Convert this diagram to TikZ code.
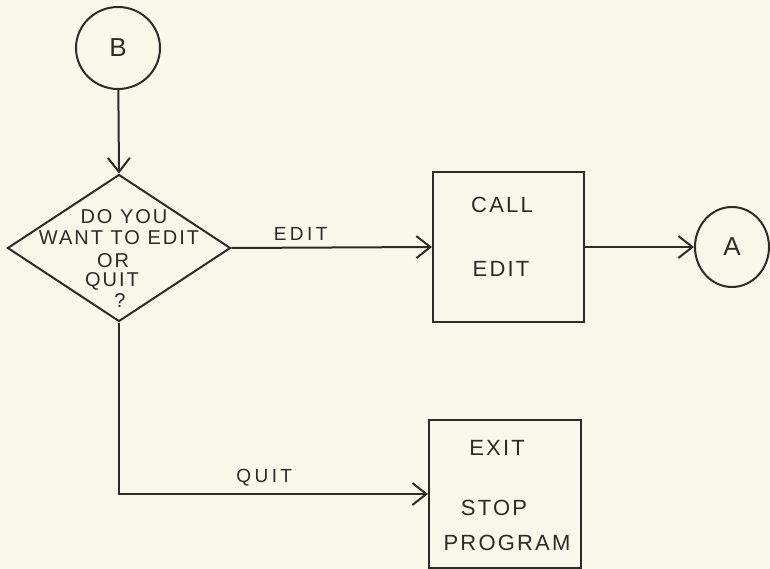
\documentclass[tikz,border=0pt]{standalone}
\usepackage{fontspec}
\setmainfont{Liberation Sans}[LetterSpace=10]
\newfontfamily\lblfont{Liberation Sans}[LetterSpace=18]
\usetikzlibrary{shapes.geometric,arrows.meta}
\definecolor{paper}{HTML}{F8F8EA}
\definecolor{ink}{HTML}{2E2A26}
\begin{document}
\begin{tikzpicture}[x=1pt,y=-1pt,
  inkline/.style={draw=ink, line width=2pt},
  conn/.style={inkline, -{Straight Barb[length=14pt,width=22pt,line width=2pt]}},
  term/.style={ellipse, inkline, inner sep=0pt, text=ink, font=\fontsize{26}{28}\selectfont},
  decision/.style={diamond, inkline, inner sep=0pt, minimum width=223pt, minimum height=147pt},
  proc/.style={rectangle, inkline, inner sep=0pt},
  dtext/.style={text=ink, inner sep=0pt, font=\fontsize{20}{22}\selectfont},
  btext/.style={text=ink, inner sep=0pt, font=\fontsize{22}{24}\selectfont},
  ltext/.style={text=ink, inner sep=0pt, font=\lblfont\fontsize{19}{21}\selectfont}]
\fill[paper] (0,0) rectangle (770,569);
\useasboundingbox (0,0) rectangle (770,569);

\node[term, minimum width=84pt, minimum height=82pt] (B) at (118,48) {B};
\node[decision] (Q) at (119,248) {};
\node[dtext] (q1) at (124,217) {DO YOU};
\node[dtext] (q2) at (119,238) {WANT TO EDIT};
\node[dtext] (q3) at (113,261) {OR};
\node[dtext] (q4) at (112,281) {QUIT};
\node[dtext] (q5) at (120,301) {?};

\node[proc, minimum width=151pt, minimum height=150pt] (call) at (508.5,247) {};
\node[btext] (c1) at (502,205) {CALL};
\node[btext] (c2) at (501,269) {EDIT};

\node[term, minimum width=74pt, minimum height=80pt] (A) at (732,247) {A};

\node[proc, minimum width=152pt, minimum height=148pt] (exit) at (505,494) {};
\node[btext] (e1) at (497,448) {EXIT};
\node[btext] (e2) at (494,508) {STOP};
\node[btext] (e3) at (507,543) {PROGRAM};

\draw[conn] (B) -- (Q.north);
\draw[conn] (Q.east) -- node[ltext, above=6pt, pos=0.345] {EDIT} (call.west);
\draw[conn] (call.east) -- (A.west);
\draw[conn] (Q.south) |- node[ltext, above=7pt, pos=0.735] {QUIT} (exit.west);
\end{tikzpicture}
\end{document}
